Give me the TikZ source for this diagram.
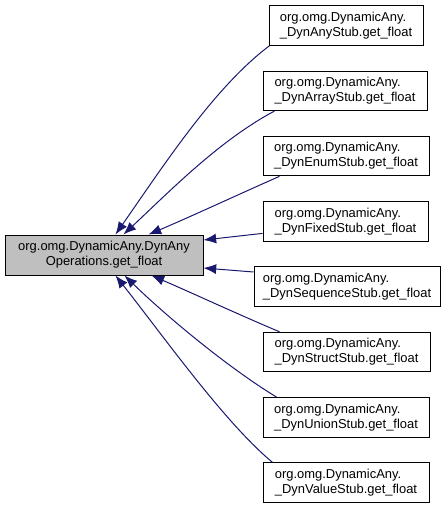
\documentclass[tikz,border=0pt]{standalone}
\usepackage{fontspec}
\setmainfont{Liberation Sans}
\usetikzlibrary{arrows.meta,calc}
\definecolor{edgeblue}{HTML}{191970}
\definecolor{maingray}{HTML}{BFBFBF}
\begin{document}
\begin{tikzpicture}[x={(0.75pt,0)},y={(0,-0.75pt)},
  box/.style={draw=black, line width=0.75pt, fill=white, minimum height=29.6pt, inner sep=0pt,
    align=left, font=\fontsize{9.7}{11.2}\selectfont},
  mainbox/.style={box, fill=maingray, align=center, minimum height=30pt, minimum width=148.5pt},
  edge/.style={draw=edgeblue, line width=0.75pt, -{Latex[length=9.5pt,width=7.5pt]}}
]
\useasboundingbox (0,0) rectangle (447,509);

\node[mainbox] (main) at (104,255) {org.omg.DynamicAny.DynAny\\Operations.get\_float};

\node[box, minimum width=115.5pt]  (any)    at (346,25.5)  {org.omg.DynamicAny.\\\_DynAnyStub.get\_float};
\node[box, minimum width=123pt]    (array)  at (345,90.8)  {org.omg.DynamicAny.\\\_DynArrayStub.get\_float};
\node[box, minimum width=124.5pt]  (enum)   at (346,156.1) {org.omg.DynamicAny.\\\_DynEnumStub.get\_float};
\node[box, minimum width=123.75pt] (fixed)  at (345.5,221.4) {org.omg.DynamicAny.\\\_DynFixedStub.get\_float};
\node[box, minimum width=139.5pt]  (seq)    at (347,286.7) {org.omg.DynamicAny.\\\_DynSequenceStub.get\_float};
\node[box, minimum width=125.25pt] (struct) at (346.5,352)   {org.omg.DynamicAny.\\\_DynStructStub.get\_float};
\node[box, minimum width=124.5pt]  (union)  at (346,417.3) {org.omg.DynamicAny.\\\_DynUnionStub.get\_float};
\node[box, minimum width=124.5pt]  (value)  at (346,482.6) {org.omg.DynamicAny.\\\_DynValueStub.get\_float};

\draw[edge] ($(any.south west)+(1,0)$) .. controls (214.5,87) and (164,165) .. ($(main.north west)+(111,0)$);
\draw[edge] ($(array.south west)+(12,0)$) .. controls (220,140) and (171,190) .. ($(main.north west)+(119,0)$);
\draw[edge] ($(enum.south west)+(17,0)$) .. controls (235,196) and (190,217) .. ($(main.north west)+(144,0)$);
\draw[edge] ($(fixed.west)+(0,12)$) -- ($(main.east)+(0,-15)$);
\draw[edge] ($(seq.west)+(0,-14.7)$) -- ($(main.east)+(0,13)$);
\draw[edge] ($(struct.north west)+(17,0)$) .. controls (235,313) and (190,292) .. ($(main.south west)+(147,0)$);
\draw[edge] ($(union.north west)+(14,0)$) .. controls (224,365) and (162.5,312.5) .. ($(main.south west)+(120,0)$);
\draw[edge] ($(value.north west)+(10,0)$) .. controls (225,423) and (164,337) .. ($(main.south west)+(111,0)$);
\end{tikzpicture}
\end{document}
